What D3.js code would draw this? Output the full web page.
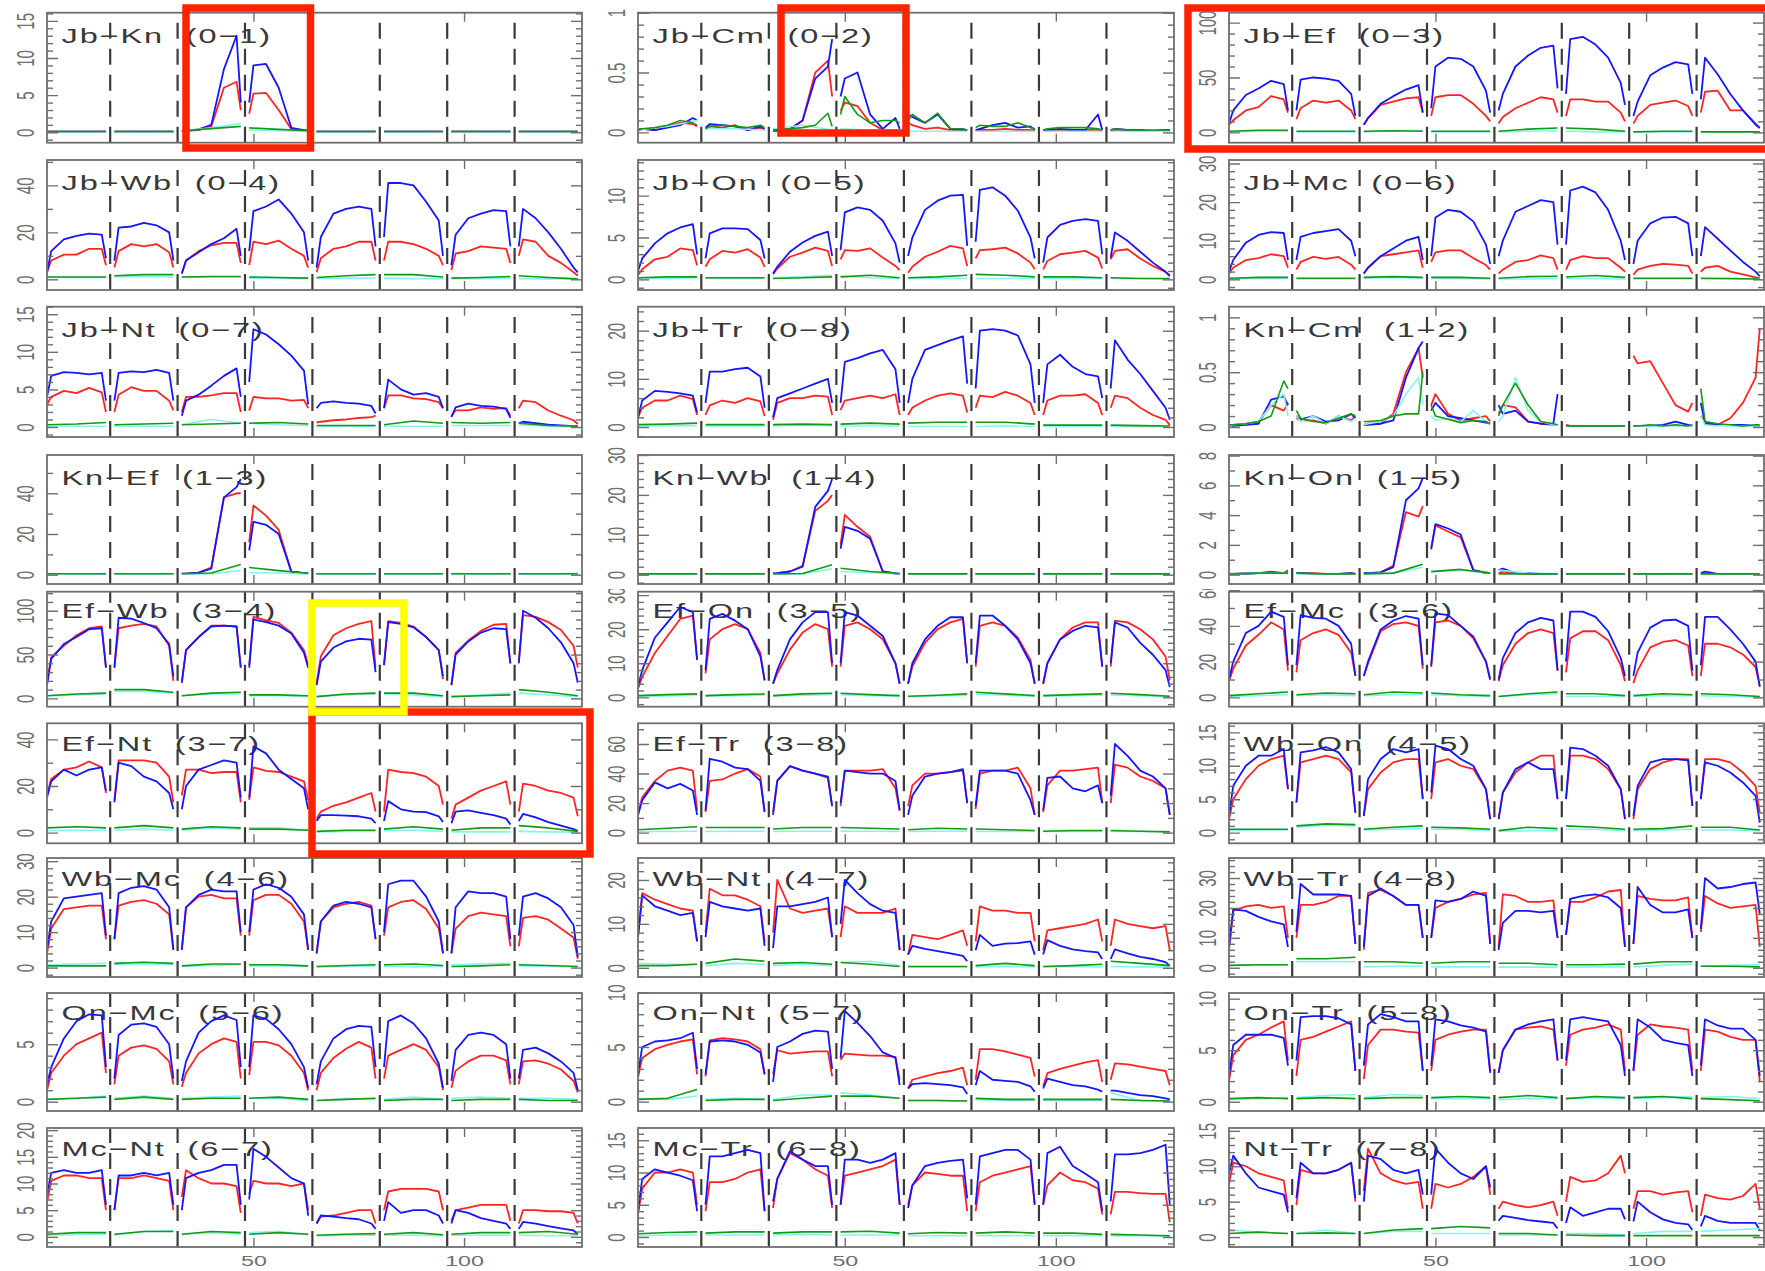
<!DOCTYPE html>
<html><head><meta charset="utf-8">
<script src="https://cdn.jsdelivr.net/npm/d3@7"></script>
<style>html,body{margin:0;padding:0;background:#fff;}svg{display:block;}</style>
</head><body>
<svg id="chart" width="1765" height="1271"></svg>
<script>
// ---------- DATA ----------
const PAIRS = ["Jb−Kn","Jb−Cm","Jb−Ef","Jb−Wb","Jb−On","Jb−Mc","Jb−Nt","Jb−Tr","Kn−Cm","Kn−Ef","Kn−Wb","Kn−On","Ef−Wb","Ef−On","Ef−Mc","Ef−Nt","Ef−Tr","Wb−On","Wb−Mc","Wb−Nt","Wb−Tr","On−Mc","On−Nt","On−Tr","Mc−Nt","Mc−Tr","Nt−Tr"];
const CODES = ["0−1","0−2","0−3","0−4","0−5","0−6","0−7","0−8","1−2","1−3","1−4","1−5","3−4","3−5","3−6","3−7","3−8","4−5","4−6","4−7","4−8","5−6","5−7","5−8","6−7","6−8","7−8"];
const Y_DOMAINS = [[-1.4,16.1],[-0.086,1.0],[-9.4,109],[-4.54,50.8],[-1.27,14.26],[-2.76,30.9],[-1.33,16.0],[-2.07,24.97],[-0.091,1.097],
 [-4.57,58.8],[-2.33,30],[-0.63,8.04],[-9.5,121.7],[-2.75,31],[-5.2,59.1],[-4.6,46.9],[-7.2,74],[-1.6,16.35],
 [-2.65,30.9],[-2.1,25],[-3.1,36.7],[-0.81,9.45],[-0.86,9.94],[-0.9,10.55],[-1.9,20.4],[-1.55,16.9],[-1.4,15.4]];
const Y_TICKS = [[0,5,10,15],[0,0.5,1],[0,50,100],[0,20,40],[0,5,10],[0,10,20,30],[0,5,10,15],[0,10,20],[0,0.5,1],
 [0,20,40],[0,10,20,30],[0,2,4,6,8],[0,50,100],[0,10,20,30],[0,20,40,60],[0,20,40],[0,20,40,60],[0,5,10,15],
 [0,10,20,30],[0,10,20],[0,10,20,30],[0,5],[0,5,10],[0,5,10],[0,5,10,15,20],[0,5,10,15],[0,5,10,15]];
const X_RANGE = [1,128];
const X_TICKS = [50,100];
const SEG_BOUNDS = [16,32,48,64,80,96,112];
const SEG_LEN = 16;
const OFFS7 = [1,2,5,8,11,14,15];
const OFFS3 = [1,8,15];

const BLUE = [
/*Jb-Kn*/[0.1,0.1,0.1,0.1,0.1,0.1,0.1, 0.1,0.1,0.1,0.1,0.1,0.1,0.1, 0.2,0.2,0.4,1.0,8.5,13,4, 4,9,9.2,6,0.6,0.3,0.3, 0.1,0.1,0.1,0.1,0.1,0.1,0.1, 0.1,0.1,0.1,0.1,0.1,0.1,0.1, 0.1,0.1,0.1,0.1,0.1,0.1,0.1, 0.1,0.1,0.1,0.1,0.1,0.1,0.1],
/*Jb-Cm*/[0.02,0.03,0.02,0.04,0.06,0.12,0.1, 0.04,0.07,0.06,0.05,0.02,0.05,0.03, 0.02,0.02,0.03,0.1,0.45,0.55,0.78, 0.3,0.45,0.5,0.15,0.03,0.12,0.03, 0.15,0.13,0.08,0.15,0.03,0.02,0.02, 0.02,0.03,0.06,0.08,0.04,0.05,0.02, 0.02,0.02,0.03,0.02,0.02,0.15,0.02, 0.02,0.03,0.02,0.02,0.01,0.02,0.02],
/*Jb-Ef*/[8,20,34,40,47,44,20, 20,48,50,49,47,35,15, 7,13,26,33,39,43,18, 22,60,68,67,60,38,18, 20,35,60,70,77,79,40, 35,85,87,80,68,45,25, 15,28,52,59,64,62,35, 30,68,53,35,20,7,4],
/*Jb-Wb*/[3,12,17,18.5,19.5,19,9, 8,22,22.5,24,23,20,8, 2.5,8,11.5,15,17.5,21.5,10, 12,29,31,34,28,20,8, 5,18,28,30,31,30,14, 18,41,41,40,33,25,10, 6,19,26,28,29.5,29,14, 14,30,26,20,13,5,3],
/*Jb-On*/[1,2.5,4.3,5.5,6.2,6.6,3, 2.5,5.5,6.1,6.1,6,4.7,2.5, 0.7,1.5,3.3,4.4,5.2,5.7,2.8, 3.5,8,8.6,8.3,7,4.3,2, 2.8,5,8.3,9.4,10,10.1,4, 4.5,10.7,11,10,8.2,5,2.5, 2,5,6.5,7,7.2,7,3, 2.6,5.6,4.6,3.3,2,0.9,0.4],
/*Jb-Mc*/[2,5,9.5,11.5,12.2,12,5, 5,11,12,12.5,13,10,6, 1.5,3,6,8,10,11,5, 6,16,18,17.5,15,9,4, 6,10,17.5,19,20.5,20,9, 9,23,24,22.5,18,10,5, 4,10,14.5,16,16.2,14.5,6, 6,13.5,10.5,7.5,4.5,2,0.8],
/*Jb-Nt*/[4,6.8,7.3,7.2,7,7.2,3.5, 3.5,7.2,7.4,7.3,7.6,7.2,3.5, 1.5,3.5,4.3,5.5,6.8,7.8,4, 6,13,12.3,11,9.5,7.5,3, 2.5,3.2,3.4,3.2,3.1,2.8,1.8, 2.5,6.3,5,4.3,4.5,4,2.5, 1.3,2.6,3.1,2.8,2.7,2.4,1.2, 0.5,0.7,0.5,0.3,0.2,0.1,0.1],
/*Jb-Tr*/[2,5.5,7.5,7.3,7,6.5,3, 5,11.5,11.5,12,12.3,10.5,4, 2,6,7,8,9,10,5, 5,13.5,14.3,15.3,16,12,5, 5,10,16,17,18,18.8,9, 8,20,20.3,20,19,13,5, 5,13,15,12.5,11,10.5,6, 8,18,14,11,7.5,4,1.5],
/*Kn-Cm*/[0.02,0.01,0.02,0.03,0.25,0.28,0.2, 0.1,0.07,0.1,0.05,0.06,0.12,0.08, 0.02,0.02,0.03,0.06,0.45,0.72,0.78, 0.15,0.22,0.1,0.08,0.06,0.04,0.03, 0.2,0.12,0.15,0.05,0.03,0.03,0.3, 0.01,0.01,0.01,0.01,0.01,0.01,0.01, 0.01,0.01,0.01,0.02,0.05,0.02,0.01, 0.22,0.03,0.02,0.02,0.02,0.01,0.01],
/*Kn-Ef*/[0.3,0.3,0.3,0.3,0.3,0.3,0.3, 0.3,0.3,0.3,0.3,0.3,0.3,0.3, 0.5,0.5,1,3,38,43,47, 12,26,24.5,20,1.5,0.8,0.6, 0.3,0.3,0.3,0.3,0.3,0.3,0.3, 0.3,0.3,0.3,0.3,0.3,0.3,0.3, 0.3,0.3,0.3,0.3,0.3,0.3,0.3, 0.3,0.3,0.3,0.3,0.3,0.3,0.3],
/*Kn-Wb*/[0.2,0.2,0.2,0.2,0.2,0.2,0.2, 0.2,0.2,0.2,0.2,0.2,0.2,0.2, 0.3,0.4,0.8,2,17,21,24, 6.5,12,11,9,0.8,0.3,0.2, 0.2,0.2,0.2,0.2,0.2,0.2,0.2, 0.2,0.2,0.2,0.2,0.2,0.2,0.2, 0.2,0.2,0.2,0.2,0.2,0.2,0.2, 0.2,0.2,0.2,0.2,0.2,0.2,0.2],
/*Kn-On*/[0.05,0.05,0.05,0.1,0.15,0.1,0.15, 0.1,0.1,0.05,0.05,0.05,0.1,0.05, 0.1,0.1,0.15,0.5,5,5.8,6.5, 1.7,3.4,3.1,2.7,0.3,0.1,0.1, 0.3,0.4,0.1,0.1,0.05,0.05,0.05, 0.05,0.05,0.05,0.05,0.05,0.05,0.05, 0.05,0.05,0.05,0.05,0.05,0.05,0.05, 0.1,0.2,0.05,0.05,0.05,0.05,0.05],
/*Ef-Wb*/[15,45,62,70,79,80,35, 35,92,91,86,80,62,25, 18,55,70,82,83,82,35, 35,90,87,83,74,52,35, 15,42,58,65,68,67,30, 38,87,85,81,70,55,25, 15,50,65,75,80,79,40, 40,100,92,80,64,40,18],
/*Ef-On*/[3,8,17.5,22,26.5,25,11, 8,23,24.5,22.5,20,12,5, 4,8,17,22,25,25,10, 10,25,24,21,18,10,4, 4,10,17,21,23.5,23.5,10, 10,24,24,21,17,10,4, 4,10,17,19.5,21,20.5,9, 10,22,20.5,16,12.5,8,3],
/*Ef-Mc*/[10,20,36,40,48,45,18, 18,46,44.5,44,40,30,12, 12,20,38,43,45.5,44,18, 18,47,46,40,34,20,10, 10,22,36,42,44.5,43,15, 20,48,48,45,37,22,12, 12,25,39,43,43.5,40,15, 18,45,45,38,30,20,6],
/*Ef-Nt*/[15,22,27,24.5,27,28,18, 13,30,28.5,24,22,17,10, 10,20,27,29,31,30,15, 15,37,34,27,23,19,10, 5,7.5,7.5,7.3,7,6,4, 5,13.5,10,9,8.8,7,4.5, 4,9,9.5,8.5,7.5,6,3.5, 5,8,6.5,4.5,3,1.5,0.8],
/*Ef-Tr*/[12,22,34,30,33,28.5,12, 15,50,48,44,43,35,14, 12,35,45,42,40,38,18, 20,42,41,40,40,35,15, 12,25,38,40,41,43,20, 18,42,42,42,40,22,12, 15,37,38,30,28,32,20, 25,60,52,42,38,30,12],
/*Wb-On*/[2.5,7,10,11.5,11.5,12.5,6.5, 4.5,12,12.3,12.8,12,9.5,3, 2.5,8,11,12.5,12,12.5,5, 6,13,12.5,11,10,6.5,2, 2,6,9.5,10.5,9.5,9.5,5, 5,12.7,12.5,11.5,10,6.5,2, 2.5,7,10.5,11,11,10.8,4, 5,10.5,10,9,7.5,5.5,1.5],
/*Wb-Mc*/[5,13,19.5,20,20.5,21,9, 8,21,22.5,23,22,17,5, 5,17,20.5,22,21.5,21.5,10, 10,22,23.5,22.5,20,15,5, 4,13,17.5,18.5,18,17,8, 10,23.5,24.5,24.5,20,13,4, 4,17,21.5,21,21,20,8, 9,20,21,19.5,17,12,3],
/*Wb-Nt*/[7,16.5,14,13,12,12.5,6, 7,15,14,13.5,13,13.5,5, 4.5,14,14,14.5,15,16,7, 10,20,17,14.5,13,12.5,4, 3,5,4.3,3.8,3.3,2.7,1.5, 4,7.5,5,5.5,5.6,6,3, 3,6.3,5,4.2,3.8,3.5,2, 2,4.2,3.3,2.5,2,1.3,0.4],
/*Wb-Tr*/[7,19.5,19,17,15.5,14.5,7, 12,28,24.5,24.5,24.5,24,8, 7,24,26.5,24,21,21,10, 10,22.5,22,23,25.5,24,8, 6,15,19,19,18.5,19,10, 11,23,24,24.5,23.5,20,7, 8,27,21,18.5,18.5,19.5,10, 13,30,26.5,27,28,28.5,18],
/*On-Mc*/[1.5,3,5.5,7,7.6,7.5,3, 2,5.8,6.7,6.8,6.5,5,2, 1.8,3.5,6,7,7.5,7.1,3, 3,7.5,7.2,6.3,5,3,1.2, 1.5,3.5,5.5,6.3,6.6,6.5,3, 3,7,7.5,6.8,5.5,3.3,1.2, 1.8,4.5,5.8,6,5.8,5,2, 2,4.5,4.7,4.2,3.5,2.5,1],
/*On-Nt*/[2.5,5,5.5,5.6,5.8,6.3,3, 2.5,5.5,5.6,5.5,5.2,4.5,2.5, 1.8,5,5.5,6.2,6.5,6.4,3, 4,8.3,7.2,6,4.5,4,1.5, 1.2,1.6,1.7,1.6,1.5,1.3,0.7, 1.5,2.8,2,1.9,1.8,1.4,0.9, 1.2,2.1,1.8,1.5,1.4,1.1,0.9, 1,1,0.8,0.6,0.5,0.3,0.2],
/*On-Tr*/[2.5,5.5,6.5,6.5,6.5,6.2,3.5, 4,8.2,8.3,8.3,8.1,7.5,3, 3.5,7.5,8.5,8.2,7.8,7.8,3, 3.5,8,7.8,7.4,7.2,6.8,2.8, 2.8,5,7,7.5,7.8,8,4, 4,8,8.2,8,7.8,5.5,2.5, 3,8,7.2,6,5.7,5.5,2.5, 3.5,8,7.4,7.1,7.1,6,2.5],
/*Mc-Nt*/[8,12,12.5,12,12,12.5,6, 5,11.5,11.5,12,11.5,12,6, 5,11,12,12.5,13.5,13.5,6, 7,16.5,15,13,11,10,4, 2.5,4,3.8,3.5,3.3,2.5,1.5, 3,6.5,4.5,5,5,4,2.5, 2.5,5,4.5,3.5,3,2.5,1.5, 1.5,2.8,2.5,2,1.6,1.2,0.5],
/*Mc-Tr*/[4,9,10.5,10,9.5,8.8,4, 5,12.5,12.5,13,13.5,13,4, 5.5,9,13.3,12,11,11,5, 5,12,12,11.5,12,13,5, 4.5,8,11,11.5,11.8,12,6, 5,12.5,13,13.5,13.5,12,5, 5,13,14,11,9.8,8.5,4, 5.5,12.8,12.8,13,13.5,14.3,5],
/*Nt-Tr*/[9,11.5,9,7,6.5,6,3.5, 5.5,10.5,9,9,9.5,10.5,5.5, 5,11.5,11,9.5,9,9.5,6, 6,12.5,10.5,9,8.2,10,7, 2.3,3,2.7,2.4,2.2,2,1.2, 2,4.2,3,3.5,4,4,2.5, 2.2,5,3.5,2.5,2,1.8,1, 1.5,3,2.3,2,2,2,1]
];

const RED = [
/*Jb-Kn*/[0.1,0.1,0.1,0.1,0.1,0.1,0.1, 0.1,0.1,0.1,0.1,0.1,0.1,0.1, 0.2,0.2,0.3,0.8,6,6.8,3, 2.5,5.2,5.3,3.0,0.4,0.2,0.2, 0.1,0.1,0.1,0.1,0.1,0.1,0.1, 0.1,0.1,0.1,0.1,0.1,0.1,0.1, 0.1,0.1,0.1,0.1,0.1,0.1,0.1, 0.1,0.1,0.1,0.1,0.1,0.1,0.1],
/*Jb-Cm*/[0.02,0.03,0.02,0.05,0.08,0.07,0.05, 0.03,0.05,0.04,0.06,0.02,0.04,0.02, 0.01,0.01,0.02,0.1,0.5,0.6,0.3, 0.18,0.25,0.22,0.08,0.02,0.02,0.02, 0.08,0.06,0.03,0.04,0.02,0.02,0.02, 0.01,0.02,0.02,0.03,0.02,0.02,0.01, 0.02,0.02,0.02,0.02,0.02,0.02,0.02, 0.01,0.02,0.02,0.01,0.01,0.02,0.01],
/*Jb-Ef*/[7,11,20,23,33,30,18, 12,22,29,27,29,20,12, 7,13,25,28,31,32,18, 15,32,34,34,26,15,10, 8,14,22,27,32,30,18, 15,30,30,28,28,18,10, 8,15,25,27,29,24,15, 18,37,38,20,20,8,4],
/*Jb-Wb*/[3,8,10.5,10.5,13,13,6, 5,12,15,14,15,11.5,5, 2.5,8,12,14.5,15.5,15.5,7, 6,16,15,16.5,13,10,5, 3,9,13,14,16,16,8, 8,16,16,15,13,10,6, 4,11,12,14,13.5,13,7, 10,17,16,10,7,3,1.5],
/*Jb-On*/[0.5,1.2,2.4,2.7,3.7,3.5,1.7, 1.5,2.4,3.4,3.2,3.6,2.6,1.5, 0.6,1.3,2.7,3.2,3.8,3.4,1.6, 2.4,3.5,3.4,3.7,2.6,1.6,1.1, 0.8,1.5,2.7,3.3,4,3.7,1.6, 2.5,3.5,3.6,3.8,3.1,2,1.2, 1.2,2.2,3,3.2,3.4,2.6,1.3, 2.4,3.4,3.6,2.5,1.6,0.9,0.5],
/*Jb-Mc*/[1.5,3,5,5.5,6.5,6,3, 2.5,4.5,5.8,5.3,5.8,3.8,2.5, 1.5,3,6,6.5,7,7.5,3, 4.5,7,7.5,7.5,5.5,3.7,2.5, 1.5,2.5,4.5,5,6.2,5.5,2.5, 2.5,5,6,5.5,5.5,3,2, 1.2,2.5,3.5,4,3.8,3.5,1.5, 2,3,3.5,2,1.3,0.5,0.3],
/*Jb-Nt*/[3,4,4.8,4.5,5.2,4.6,2, 2,4.3,5.3,4.8,4.8,3.5,2.2, 2,4,4,4.2,4.5,4.5,2, 2.2,4,3.8,3.8,3.5,3.6,2.5, 0.6,0.7,0.9,1,1.2,1.3,1.5, 2.5,4.2,4.2,3.8,3.7,3.3,2.5, 1.5,2.2,2.2,2.6,2.4,2.5,1.5, 2.5,3.5,3.3,2.2,1.5,0.9,0.4],
/*Jb-Tr*/[2,4,5.5,5.5,6.5,5.8,2.5, 2.5,4.5,5.5,5,6,5.3,2.3, 1.5,5,6,6,6.5,6.3,2.5, 3.5,5.5,6,6.5,6,6.8,2.5, 2.5,4,5.5,6.5,7,6.5,3, 4,6.5,6.2,7.3,6.5,5,2.5, 2.5,5.5,6.5,6.5,6.8,5,2.5, 4,6.5,6,4,2.5,1.5,0.4],
/*Kn-Cm*/[0.02,0.02,0.03,0.05,0.2,0.15,0.22, 0.08,0.06,0.06,0.03,0.1,0.06,0.1, 0.02,0.03,0.03,0.12,0.5,0.72,0.45, 0.2,0.3,0.12,0.06,0.08,0.1,0.05, 0.12,0.2,0.18,0.05,0.03,0.02,0.02, 0.02,0.01,0.01,0.01,0.01,0.01,0.01, 0.65,0.58,0.6,0.4,0.2,0.14,0.22, 0.1,0.05,0.02,0.08,0.22,0.45,0.9],
/*Kn-Ef*/[0.3,0.3,0.3,0.3,0.3,0.3,0.3, 0.3,0.3,0.3,0.3,0.3,0.3,0.3, 0.5,0.5,1,3.5,38,40,40, 16,34,29,22,1.5,0.8,0.6, 0.3,0.3,0.3,0.3,0.3,0.3,0.3, 0.3,0.3,0.3,0.3,0.3,0.3,0.3, 0.3,0.3,0.3,0.3,0.3,0.3,0.3, 0.3,0.3,0.3,0.3,0.3,0.3,0.3],
/*Kn-Wb*/[0.2,0.2,0.2,0.2,0.2,0.2,0.2, 0.2,0.2,0.2,0.2,0.2,0.2,0.2, 0.3,0.4,0.8,2.2,16,18.5,20, 7.5,15,12,9.5,0.8,0.3,0.2, 0.2,0.2,0.2,0.2,0.2,0.2,0.2, 0.2,0.2,0.2,0.2,0.2,0.2,0.2, 0.2,0.2,0.2,0.2,0.2,0.2,0.2, 0.2,0.2,0.2,0.2,0.2,0.2,0.2],
/*Kn-On*/[0.05,0.05,0.1,0.1,0.2,0.1,0.3, 0.1,0.1,0.1,0.05,0.05,0.1,0.05, 0.1,0.1,0.15,0.6,4.2,3.9,4.6, 1.8,3.3,2.9,2.5,0.3,0.15,0.1, 0.1,0.2,0.1,0.05,0.05,0.05,0.05, 0.05,0.05,0.05,0.05,0.05,0.05,0.05, 0.05,0.05,0.05,0.05,0.05,0.05,0.05, 0.05,0.05,0.05,0.05,0.05,0.05,0.05],
/*Ef-Wb*/[18,47,60,72,80,82,35, 35,80,83,85,82,60,20, 18,55,70,83,83,82,35, 38,93,89,86,75,55,38, 17,48,72,80,85,88,35, 38,88,86,82,70,55,22, 15,52,66,77,84,85,40, 42,95,93,87,78,60,35],
/*Ef-On*/[2.5,6,13,18,23,24,11, 7,17,20,21.5,20,13,5, 4,7,14,19,21.5,20,9, 9,21,22,20,17,10,4, 4,9,16,20,22,23,10, 9,21,22,21,17.5,11,4, 4,10,17,20.5,22,22,9, 9,22.5,22,20,17,12,5],
/*Ef-Mc*/[9,16,29,35,42,38,15, 14,32,36,38,35,25,12, 12,19,37,41,42,40,16, 17,42,43,40,33,20,10, 9,18,30,36,38,36,15, 14,33,37,37,32,18,9, 8,15,28,31,32,29,12, 12,30,30,28,24,17,6],
/*Ef-Nt*/[16,23,27,28,30.5,28,17, 14,31,31,31,30,24,13, 16,27,27,25.5,26,26,13, 14,28,26.5,26,24,22,14, 6,9,11.5,13,15,17,9, 9,27,26,25.5,24,20,12, 6,12,15,18,20,22,12, 9,21,20,18,17,15,7],
/*Ef-Tr*/[12,24,35,42,44,42,15, 14,35,36,40,43,38,14, 14,35,45,42,40,37,18, 18,42,42,42,43,30,15, 18,32,40,40,41,42,20, 16,40,42,42,44,30,12, 14,32,42,42,43,44,20, 20,46,44,38,35,30,12],
/*Wb-On*/[2,5,8,10,11,11.5,6.5, 4.5,10.5,11,11.5,11,9,3, 2.5,6.5,9,10.5,11,11,5, 5,10.5,11,10,9.5,6.5,2, 2,6,9,10.5,11.5,11.5,5, 5,11.5,11.5,11,9.5,6.5,2, 2,6.5,9.5,10.5,11,11,4, 5,11,11,10.5,9,7,3],
/*Wb-Mc*/[4,11,16.5,17,17.5,17.5,8, 8,17.5,18.5,19,18,15,5, 5,17,20,20.5,19.5,19.5,9, 9,19,20.5,20.5,18,13,5, 4,13,17,18,18.5,17.5,8, 9,17,18.5,19,16.5,11,4, 4,11,14.5,15.5,15,14.5,6, 6,14,14.5,13.5,11,8.5,2.5],
/*Wb-Nt*/[7,17,15.5,14.5,13.5,13,6, 8,18,16.5,16.5,15.5,14,6, 8,20,13.5,12.5,13,13.5,7, 7,14,12.5,12.5,12.5,13.5,4, 3,7.5,7,6.5,7.5,8.5,5, 6,14,13,13,12.5,12.5,6, 4,8.5,9,9.5,10,11,6, 5,11,10,9.5,9,9.5,4],
/*Wb-Tr*/[6,19,20.5,21,20,20.5,10, 10,21,21,22,24,24,8, 6,25,26,24,21,21,10, 10,20,22,23,24.5,25,8, 7,24.5,24,22,22,22.5,10, 11,22,22,23.5,25.5,26,7, 8,24,23,22.5,22.5,23.5,10, 12,24,21.5,20,20.5,21,7],
/*On-Mc*/[1,2.5,4,5,5.5,6,2.5, 1.5,4,4.7,4.9,4.6,3.5,1.5, 1.3,2.5,4.2,5,5.5,5.2,2, 2.3,5.2,5.2,4.9,4,2.5,1, 1,2.5,3.8,4.6,5.2,4.7,2, 2,4,4.5,5,4.5,3,1, 1.2,2.7,3.5,4,4,3.6,1.5, 1.5,3.5,3.6,3.3,2.8,1.8,0.8],
/*On-Nt*/[2.2,4,4.8,5.2,5.5,5.7,2.5, 2.3,5.6,5.8,5.7,5.5,4.8,2.5, 2.5,4.7,4.4,4.5,4.6,4.6,2.3, 3.8,4.4,4.3,4.2,4.2,4.1,2, 1.2,2,2.3,2.6,2.8,3.1,1.5, 2,4.8,4.8,4.6,4.3,4,2.3, 1.4,2.6,3,3.3,3.6,3.8,1.8, 2,3.5,3.4,3.2,3,2.8,1.5],
/*On-Tr*/[2,4.5,6,6.5,7.2,7.8,4, 2.5,6,6.3,6.8,7.3,7.8,3, 2.2,5.5,7,7,6.8,6.7,3, 3,6,6.5,6.8,7,7,3, 2.8,5,7,7.2,7.3,7,4, 3.5,6.5,7,7.2,7.5,7,3, 3,6.5,7.5,7.3,7.2,7,3, 3,7,6.8,6.3,6,6,2],
/*Mc-Nt*/[6.5,10.5,11.5,11.5,11,11,5, 5,11,11,11.5,11,10.5,5, 7.5,12.5,11,10,10,9.5,4.5, 8,10.5,10,10,9.5,10,5, 2.5,3.8,4,4.5,5,5,2.5, 5,8.5,9,9,9,8.5,5, 3,5,5.5,6,6,6,3, 2.5,5,5,4.8,4.8,4.5,2.5],
/*Mc-Tr*/[3.5,7.5,10,10,10.5,10,5, 4,8.5,8.5,9,10,10.5,4, 4.5,9,13,12,10.5,9.5,4.5, 5,9.5,10,10.5,11,12,5, 5,8,10,9.8,9.5,9.5,4, 4,8.5,9.5,10,10.5,11,5, 5,8,10,8.8,8.5,7.5,3.5, 3.5,7,7,6.8,6.7,6.7,2.3],
/*Nt-Tr*/[7.5,10.5,10,9,8.5,8,4, 4.5,9.5,9,9,9.5,10.5,5, 6.5,12.5,9,8,7.5,7.8,4, 4,7.5,7,7.5,8.5,10,6, 4,5,4.5,4.2,4.5,5,3, 5,8.5,7.8,8,9,11.5,9, 4,6.5,6.5,6,6.3,6.5,3.5, 3,6,5.5,5.3,5.8,7.5,4]
];

const GREEN = [
/*Jb-Kn*/[0.1,0.1,0.1, 0.1,0.1,0.1, 0.2,0.5,0.8, 0.6,0.4,0.2, 0.1,0.1,0.1, 0.1,0.1,0.1, 0.1,0.1,0.1, 0.1,0.1,0.1],
/*Jb-Cm*/[0.02,0.03,0.04,0.06,0.1,0.08,0.06, 0.03,0.05,0.06,0.05,0.04,0.06,0.04, 0.02,0.02,0.03,0.04,0.06,0.16,0.05, 0.15,0.3,0.15,0.08,0.1,0.1,0.08, 0.1,0.15,0.08,0.16,0.03,0.03,0.02, 0.04,0.06,0.05,0.05,0.08,0.04,0.03, 0.02,0.03,0.04,0.04,0.04,0.03,0.02, 0.02,0.03,0.02,0.02,0.02,0.02,0.02],
/*Jb-Ef*/[1,2,2, 1,1,1, 1,1.5,1, 1,1,1, 1,3,4, 4,3,1, 0.5,1,1, 0.5,0.5,0.5],
/*Jb-Wb*/[1,1,1, 1.5,2,2, 1,1.2,1.2, 1,0.8,0.5, 0.8,1.5,2, 2,2,1, 0.5,0.8,1.2, 1.5,0.8,0.2],
/*Jb-On*/[0.2,0.3,0.3, 0.2,0.2,0.2, 0.1,0.2,0.3, 0.3,0.5,0.2, 0.2,0.3,0.5, 0.6,0.5,0.3, 0.3,0.3,0.2, 0.2,0.1,0.1],
/*Jb-Mc*/[0.3,0.5,0.5, 0.3,0.3,0.3, 0.5,0.7,0.5, 0.5,0.5,0.3, 0.3,0.7,0.8, 0.6,1,0.5, 0.3,0.3,0.3, 0.3,0.2,0.1],
/*Jb-Nt*/[0.3,0.4,0.6, 0.3,0.4,0.5, 0.3,0.4,0.5, 0.5,0.6,0.4, 0.2,0.2,0.2, 0.3,0.8,0.5, 0.6,0.5,0.6, 0.5,0.2,0.1],
/*Jb-Tr*/[0.5,0.6,0.8, 0.5,0.5,0.5, 0.5,0.6,0.5, 0.6,0.8,0.6, 0.8,1,1, 1,1,0.6, 0.4,0.4,0.4, 0.4,0.3,0.2],
/*Kn-Cm*/[0.02,0.02,0.03,0.05,0.1,0.42,0.35, 0.15,0.08,0.05,0.04,0.08,0.12,0.1, 0.05,0.05,0.06,0.1,0.12,0.12,0.5, 0.2,0.1,0.07,0.04,0.06,0.05,0.03, 0.1,0.2,0.4,0.2,0.05,0.03,0.02, 0.01,0.01,0.01,0.01,0.01,0.01,0.01, 0.01,0.01,0.02,0.01,0.02,0.01,0.02, 0.35,0.05,0.03,0.02,0.01,0.02,0.02],
/*Kn-Ef*/[0.5,0.5,0.5, 0.5,0.5,0.5, 0.5,0.8,5, 3.5,2,0.7, 0.5,0.5,0.5, 0.5,0.5,0.5, 0.5,0.5,0.5, 0.5,0.5,0.5],
/*Kn-Wb*/[0.2,0.2,0.2, 0.2,0.2,0.2, 0.2,0.3,2.5, 1.6,0.8,0.3, 0.2,0.2,0.2, 0.2,0.2,0.2, 0.2,0.2,0.2, 0.2,0.2,0.2],
/*Kn-On*/[0.05,0.1,0.1, 0.1,0.05,0.05, 0.05,0.1,0.7, 0.2,0.35,0.1, 0.05,0.05,0.05, 0.05,0.05,0.05, 0.05,0.05,0.05, 0.05,0.05,0.05],
/*Ef-Wb*/[3,5,6, 10,10,7, 3,6,7, 4,4,3, 2,5,6, 6,6,3, 2,3,4, 10,7,3],
/*Ef-On*/[0.5,0.8,1, 0.5,0.8,1, 0.5,1,1.2, 1.2,0.8,0.5, 0.3,0.6,1, 1.5,1,0.5, 0.5,0.8,1, 1.2,0.8,0.3],
/*Ef-Mc*/[1,2,3, 1.5,2.5,2, 1.5,3,2.5, 2.5,1.5,1, 0.5,2,3, 2,2,1, 1,2,1.5, 2,1.5,0.5],
/*Ef-Nt*/[2,2.5,2, 2,3,2, 1.5,2.5,2, 1.5,1.5,1, 0.5,1,1, 1.5,2.5,1.5, 1,2,2, 3,2,0.5],
/*Ef-Tr*/[2,3,4, 3.5,3.5,3.5, 2.5,3.5,3.5, 3.5,3,2.5, 2,3,2.5, 2.5,2,1.5, 1,1.5,1.5, 1.5,1,0.5],
/*Wb-On*/[0.5,0.5,0.5, 1,1.3,1.2, 0.5,0.8,1, 0.8,0.7,0.5, 0.3,0.8,0.6, 1,0.8,0.5, 0.5,0.6,1, 0.8,0.8,0.4],
/*Wb-Mc*/[0.5,0.5,0.5, 1.2,1.5,1.2, 0.5,1,1, 0.8,0.8,0.5, 0.3,0.6,0.8, 0.8,1,0.6, 0.3,0.5,0.8, 0.8,0.6,0.3],
/*Wb-Nt*/[0.5,0.5,0.8, 1,2,1.5, 1,1.2,0.8, 1.2,0.8,0.3, 0.3,0.3,0.3, 0.5,1,0.5, 0.3,0.5,0.8, 1.5,1,0.5],
/*Wb-Tr*/[0.8,1,1, 3,3,3.5, 2,2,1.5, 1.5,2,2, 1.5,1.5,1, 1,1,1.2, 1.2,2,2, 0.5,0.5,0.3],
/*On-Mc*/[0.2,0.3,0.4, 0.2,0.4,0.2, 0.2,0.3,0.3, 0.3,0.4,0.2, 0.1,0.2,0.3, 0.1,0.2,0.2, 0.1,0.2,0.2, 0.2,0.1,0.1],
/*On-Nt*/[0.2,0.3,1.1, 0.1,0.2,0.2, 0.1,0.3,0.5, 0.5,0.5,0.3, 0.1,0.1,0.05, 0.3,0.2,0.2, 0.2,0.2,0.2, 0.2,0.1,0.05],
/*On-Tr*/[0.3,0.4,0.3, 0.3,0.4,0.3, 0.3,0.4,0.4, 0.4,0.5,0.4, 0.4,0.6,0.4, 0.3,0.5,0.4, 0.4,0.5,0.3, 0.3,0.2,0.1],
/*Mc-Nt*/[0.5,0.8,0.8, 0.5,1,1, 0.5,1,0.8, 0.5,0.8,0.5, 0.3,0.5,0.6, 0.5,0.8,0.4, 0.5,0.8,0.8, 0.8,1,0.5],
/*Mc-Tr*/[0.5,0.7,0.8, 0.6,0.8,0.8, 0.6,0.8,0.8, 0.8,0.9,0.6, 0.5,0.7,0.6, 0.6,0.8,0.6, 0.6,0.6,0.4, 0.4,0.3,0.2],
/*Nt-Tr*/[0.5,0.7,0.5, 0.5,0.6,0.5, 0.5,1,1.2, 1.2,1.5,1.3, 0.5,0.5,0.3, 0.3,0.2,0.2, 0.2,0.2,0.2, 0.2,0.2,0.2]
];

const CYAN = [
/*Jb-Kn*/[0.05,0.05,0.05, 0.05,0.05,0.05, 0.2,0.6,1.2, 0.3,0.2,0.1, 0.05,0.05,0.05, 0.05,0.05,0.05, 0.05,0.05,0.05, 0.05,0.05,0.05],
/*Jb-Cm*/[0.02,0.05,0.1, 0.03,0.03,0.02, 0.03,0.06,0.02, 0.03,0.02,0.02, 0.01,0.01,0.01, 0.01,0.01,0.01, 0.01,0.01,0.01, 0.01,0.01,0.01],
/*Jb-Ef*/[0.5,1,1, 0.5,0.5,0.5, 0.5,1.5,2, 0.5,0.5,0.5, 0.5,1,1.5, 1,0.5,0.5, 0.5,0.5,0.5, 0.5,0.5,0.5],
/*Jb-Wb*/[0.8,0.8,0.8, 1,1.2,1, 0.8,1,1, 0.5,0.5,0.3, 0.4,0.5,0.6, 0.5,0.3,0.3, 0.3,0.3,0.5, 0.3,0.2,0.2],
/*Jb-On*/[0.1,0.1,0.2, 0.1,0.1,0.1, 0.2,0.3,0.5, 0.4,0.2,0.1, 0.1,0.1,0.1, 0.1,0.1,0.1, 0.1,0.1,0.1, 0.1,0.1,0.05],
/*Jb-Mc*/[0.2,0.2,0.2, 0.1,0.1,0.1, 0.3,0.5,0.3, 0.2,0.2,0.1, 0.1,0.1,0.2, 0.2,0.2,0.1, 0.1,0.1,0.1, 0.1,0.1,0.05],
/*Jb-Nt*/[0.1,0.1,0.1, 0.1,0.1,0.1, 0.3,1,0.5, 0.5,0.3,0.2, 0.1,0.1,0.1, 0.1,0.1,0.1, 0.2,0.2,0.2, 0.3,0.1,0.05],
/*Jb-Tr*/[0.2,0.2,0.3, 0.2,0.2,0.2, 0.3,0.4,0.3, 0.2,0.2,0.2, 0.1,0.1,0.1, 0.1,0.2,0.1, 0.1,0.1,0.1, 0.1,0.1,0.1],
/*Kn-Cm*/[0.02,0.02,0.03,0.05,0.2,0.3,0.1, 0.1,0.05,0.1,0.03,0.1,0.05,0.08, 0.02,0.03,0.05,0.1,0.3,0.45,0.2, 0.1,0.06,0.08,0.05,0.15,0.05,0.03, 0.05,0.1,0.45,0.15,0.05,0.02,0.02, 0.01,0.01,0.01,0.01,0.01,0.01,0.01, 0.01,0.01,0.01,0.01,0.01,0.01,0.01, 0.1,0.02,0.01,0.01,0.01,0.01,0.01],
/*Kn-Ef*/[0.3,0.3,0.3, 0.3,0.3,0.3, 0.3,0.5,2, 1,0.8,0.3, 0.3,0.3,0.3, 0.3,0.3,0.3, 0.3,0.3,0.3, 0.3,0.3,0.3],
/*Kn-Wb*/[0.1,0.1,0.1, 0.1,0.1,0.1, 0.1,0.2,1.5, 0.8,0.5,0.2, 0.1,0.1,0.1, 0.1,0.1,0.1, 0.1,0.1,0.1, 0.1,0.1,0.1],
/*Kn-On*/[0.05,0.1,0.1, 0.05,0.05,0.05, 0.05,0.1,0.5, 0.2,0.3,0.1, 0.3,0.1,0.05, 0.05,0.05,0.05, 0.05,0.05,0.05, 0.05,0.05,0.05],
/*Ef-Wb*/[3,4,5, 8,8,6, 3,5,5, 3,3,2, 2,4,5, 5,4,2, 2,4,6, 6,4,2],
/*Ef-On*/[0.2,0.4,0.6, 0.3,0.5,0.6, 0.3,0.6,0.8, 0.8,0.5,0.3, 0.2,0.4,0.6, 0.9,0.6,0.3, 0.3,0.5,0.6, 0.7,0.5,0.2],
/*Ef-Mc*/[0.5,1,1.5, 1,1.5,1, 1,1.5,1.5, 1.5,1,0.5, 0.5,1.5,2, 0.5,0.5,0.5, 0.5,1,1, 1,0.5,0.3],
/*Ef-Nt*/[0.8,1,1, 1,1.5,1, 1,2,1.5, 2,2,1, 0.3,0.5,0.5, 0.8,1,0.5, 0.3,0.3,0.3, 0.5,0.3,0.2],
/*Ef-Tr*/[0.8,0.8,1, 0.8,1,1, 0.8,1,1, 1,1,0.8, 0.8,1,1, 0.8,0.8,0.8, 0.8,0.8,0.8, 0.8,0.8,0.8],
/*Wb-On*/[0.3,0.4,0.4, 0.8,1.1,1, 0.4,0.5,0.6, 0.5,0.5,0.3, 0.2,0.3,0.3, 0.5,0.5,0.3, 0.3,0.4,0.5, 0.4,0.4,0.3],
/*Wb-Mc*/[0.8,1,1.2, 0.8,1,0.8, 0.3,0.6,0.8, 0.5,0.5,0.3, 0.2,0.3,0.5, 0.5,0.2,0.3, 0.8,1,1.2, 0.5,0.4,0.3],
/*Wb-Nt*/[1,0.8,0.8, 0.5,1,0.8, 0.5,0.8,0.5, 1.2,1.5,0.5, 0.2,0.2,0.2, 0.2,0.3,0.2, 0.2,0.3,0.2, 0.3,0.2,0.2],
/*Wb-Tr*/[0.8,0.9,1, 2,2,2, 0.3,0.5,0.5, 0.3,0.3,0.3, 0.2,0.2,0.2, 0.2,0.3,0.3, 0.3,0.8,1.2, 0.5,0.8,1],
/*On-Mc*/[0.2,0.3,0.5, 0.3,0.5,0.3, 0.3,0.4,0.5, 0.3,0.3,0.1, 0.1,0.3,0.2, 0.2,0.4,0.2, 0.3,0.4,0.3, 0.3,0.3,0.2],
/*On-Nt*/[0.3,0.2,0.5, 0.2,0.3,0.2, 0.2,0.6,0.6, 0.8,0.6,0.3, 0.1,0.1,0.05, 0.2,0.1,0.1, 0.1,0.1,0.1, 0.8,0.1,0.05],
/*On-Tr*/[0.2,0.3,0.4, 0.4,0.6,0.7, 0.4,0.7,0.6, 0.3,0.3,0.3, 0.2,0.3,0.3, 0.3,0.4,0.3, 0.3,0.4,0.5, 0.4,0.5,0.3],
/*Mc-Nt*/[0.3,0.4,0.5, 0.3,1,1.2, 0.5,0.8,0.5, 0.8,1,0.5, 0.2,0.3,0.3, 0.3,0.3,0.2, 0.3,0.3,0.3, 0.3,0.2,0.2],
/*Mc-Tr*/[0.2,0.3,0.3, 0.3,0.3,0.3, 0.3,0.4,0.3, 0.3,0.3,0.3, 0.2,0.2,0.2, 0.2,0.2,0.2, 0.2,0.2,0.2, 0.2,0.2,0.1],
/*Nt-Tr*/[1,0.7,0.5, 0.5,1,0.5, 0.5,0.8,0.8, 0.5,0.5,0.5, 0.3,0.3,0.3, 0.5,0.5,0.3, 0.5,0.8,0.8, 0.8,1,1.2]
];

// ---------- LAYOUT / STYLE ----------
const W = 1765, H = 1271;
const COLS = [[47,582],[638,1174],[1229,1764]];
const ROWS = [[12.7,142.7],[160,290],[306.7,437],[455,584],[591.7,706.7],[723.3,843.3],[858,977],[993,1111],[1128,1247]];
const LABEL_CLIP_TOP = [0,155.5,300,446,589,716,850,984,1120];
const STRETCH = 1.55;
const FONT = "'Liberation Sans', Arial, Helvetica, sans-serif";
const SERIES = [
  {data: RED,   color: "#ff2323", width: 1.8},
  {data: BLUE,  color: "#1515ff", width: 1.8},
  {data: CYAN,  color: "#86f2f2", width: 1.6},
  {data: GREEN, color: "#139a13", width: 1.6}
];
const AXIS_GRAY = "#6e6e6e";

const svg = d3.select("#chart");
svg.append("rect").attr("width", W).attr("height", H).attr("fill", "#fff");
const defs = svg.append("defs");

function minorStep(step) {
  const p = Math.pow(10, Math.floor(Math.log10(step)));
  const lead = Math.round(step / p);
  return lead === 2 ? step / 2 : step / 5;
}

PAIRS.forEach((name, i) => {
  const r = Math.floor(i / 3), c = i % 3;
  const [x0, x1] = COLS[c], [y0, y1] = ROWS[r];
  const x = d3.scaleLinear().domain(X_RANGE).range([x0, x1]);
  const y = d3.scaleLinear().domain(Y_DOMAINS[i]).range([y1, y0]);
  const g = svg.append("g");

  defs.append("clipPath").attr("id", "pc" + i).append("rect")
    .attr("x", x0).attr("y", y0).attr("width", x1 - x0).attr("height", y1 - y0);
  defs.append("clipPath").attr("id", "lc" + i).append("rect")
    .attr("x", -46).attr("y", LABEL_CLIP_TOP[r]).attr("width", 62).attr("height", y1 + 15 - LABEL_CLIP_TOP[r]);

  // segment separators
  g.append("g").selectAll("line").data(SEG_BOUNDS).join("line")
    .attr("x1", d => x(d)).attr("x2", d => x(d))
    .attr("y1", y1).attr("y2", y0)
    .attr("stroke", "#3a3a3a").attr("stroke-width", 2.2).attr("stroke-dasharray", "16,10");

  // title
  g.append("text")
    .attr("transform", `translate(${x0 + 14.5},${y0 + 0.232 * (y1 - y0)}) scale(${STRETCH},1)`)
    .style("white-space", "pre")
    .attr("letter-spacing", 1.2)
    .attr("font-family", FONT).attr("font-size", 21).attr("fill", "#383838")
    .text(`${name}  (${CODES[i]})`);

  // series
  const lines = g.append("g").attr("clip-path", `url(#pc${i})`);
  const line = d3.line().x(d => x(d[0])).y(d => y(d[1]));
  SERIES.forEach(s => {
    const vals = s.data[i];
    const per = vals.length / 8;
    const offs = per === 7 ? OFFS7 : OFFS3;
    for (let k = 0; k < 8; k++) {
      const pts = offs.map((o, j) => [SEG_LEN * k + o, vals[k * per + j]]);
      lines.append("path").attr("d", line(pts))
        .attr("fill", "none").attr("stroke", s.color).attr("stroke-width", s.width)
        .attr("stroke-linejoin", "round");
    }
  });

  // ticks
  const ticks = Y_TICKS[i];
  const step = ticks[1] - ticks[0];
  const ms = minorStep(step);
  const [dmin, dmax] = Y_DOMAINS[i];
  const minors = d3.range(Math.ceil(dmin / ms) * ms, dmax + 1e-9, ms)
    .map(v => +v.toFixed(6)).filter(v => !ticks.some(t => Math.abs(t - v) < 1e-6));

  const styleAxis = sel => {
    sel.select(".domain").remove();
    sel.selectAll("line").attr("stroke", AXIS_GRAY).attr("stroke-width", 1.4);
  };
  g.append("g").attr("transform", `translate(${x0},0)`)
    .call(d3.axisLeft(y).tickValues(minors).tickSize(-6).tickFormat("")).call(styleAxis);
  g.append("g").attr("transform", `translate(${x1},0)`)
    .call(d3.axisRight(y).tickValues(minors).tickSize(-6).tickFormat("")).call(styleAxis);
  g.append("g").attr("transform", `translate(${x1},0)`)
    .call(d3.axisRight(y).tickValues(ticks).tickSize(-11).tickFormat("")).call(styleAxis);
  const la = g.append("g").attr("transform", `translate(${x0},0)`)
    .call(d3.axisLeft(y).tickValues(ticks).tickSize(-11).tickFormat(d => String(d))).call(styleAxis);
  la.attr("font-family", null).attr("font-size", null);
  la.selectAll("text")
    .attr("x", null).attr("y", null).attr("dy", "0.36em")
    .attr("transform", `translate(-21.5,0) scale(${STRETCH},1) rotate(-90)`)
    .attr("text-anchor", "middle")
    .attr("fill", AXIS_GRAY).attr("font-family", FONT).attr("font-size", 15);
  la.attr("clip-path", `url(#lc${i})`);

  g.append("g").attr("transform", `translate(0,${y1})`)
    .call(d3.axisBottom(x).tickValues(X_TICKS).tickSize(-9).tickFormat("")).call(styleAxis);
  g.append("g").attr("transform", `translate(0,${y0})`)
    .call(d3.axisTop(x).tickValues(X_TICKS).tickSize(-9).tickFormat("")).call(styleAxis);

  // border
  g.append("rect").attr("x", x0).attr("y", y0).attr("width", x1 - x0).attr("height", y1 - y0)
    .attr("fill", "none").attr("stroke", AXIS_GRAY).attr("stroke-width", 1.8);

  // bottom x labels
  if (r === 8) {
    const xa = g.append("g").attr("transform", `translate(0,${y1})`)
      .call(d3.axisBottom(x).tickValues(X_TICKS).tickSize(0).tickFormat(d => String(d)));
    xa.select(".domain").remove();
    xa.selectAll("text")
      .attr("y", null).attr("dy", null)
      .attr("transform", `translate(0,19) scale(${STRETCH},1)`)
      .attr("fill", AXIS_GRAY).attr("font-family", FONT).attr("font-size", 15);
  }
});

// ---------- annotation boxes ----------
const BOXES = [
  {x: 186, y: 8, w: 124.5, h: 140, color: "#ff2200"},
  {x: 781, y: 8, w: 125, h: 125, color: "#ff2200"},
  {x: 1188, y: 8, w: 581, h: 141, color: "#ff2200"},
  {x: 312, y: 712, w: 278, h: 142, color: "#ff2200"},
  {x: 312, y: 603, w: 92, h: 109, color: "#ffff00"}
];
svg.append("g").selectAll("rect").data(BOXES).join("rect")
  .attr("x", d => d.x).attr("y", d => d.y).attr("width", d => d.w).attr("height", d => d.h)
  .attr("fill", "none").attr("stroke", d => d.color).attr("stroke-width", 7.5);
</script>
</body></html>
